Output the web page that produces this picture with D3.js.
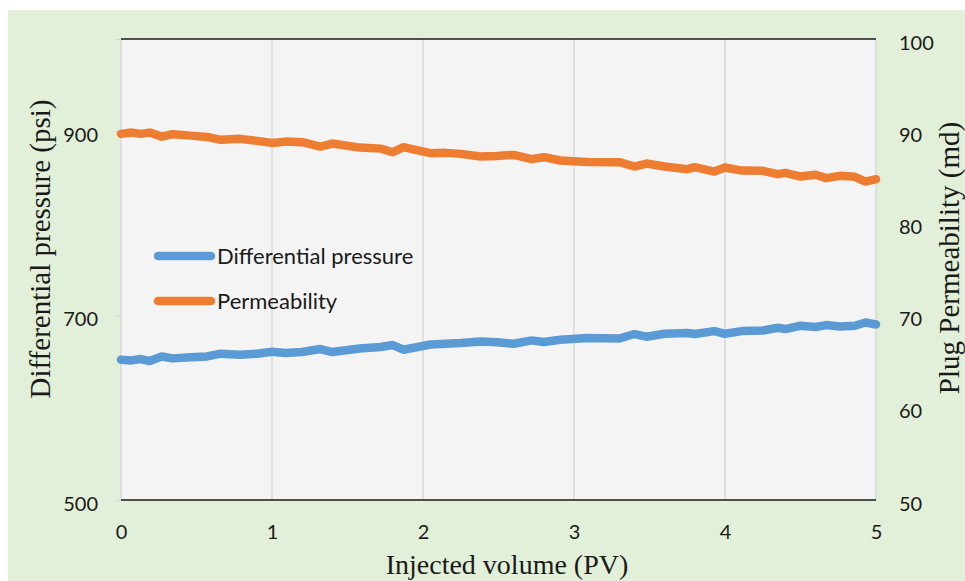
<!DOCTYPE html>
<html>
<head>
<meta charset="utf-8">
<script src="https://cdn.jsdelivr.net/npm/d3@7"></script>
<style>
  html, body { margin: 0; padding: 0; background: #ffffff; }
  svg { display: block; }
</style>
</head>
<body>
<svg id="chart" width="965" height="581"></svg>
<script>

//============================================================
// Data
//------------------------------------------------------------

var injectedPV = [0, 0.07, 0.13, 0.19, 0.27, 0.34, 0.46, 0.57, 0.66, 0.79,
                  0.90, 1.00, 1.09, 1.20, 1.32, 1.40, 1.58, 1.72, 1.80, 1.87,
                  2.05, 2.15, 2.25, 2.38, 2.49, 2.60, 2.72, 2.80, 2.91, 3.09,
                  3.30, 3.40, 3.48, 3.60, 3.75, 3.80, 3.93, 4.00, 4.11, 4.25,
                  4.35, 4.40, 4.50, 4.60, 4.67, 4.76, 4.86, 4.93, 5.00];

var diffPressure = [652.2, 651.4, 652.9, 650.7, 655.7, 653.6, 654.7, 655.7, 658.7, 657.6,
                    658.7, 660.8, 659.4, 660.5, 663.7, 660.5, 664.4, 665.9, 668.1, 663.0,
                    668.7, 669.5, 670.2, 672.0, 671.1, 669.5, 673.1, 671.3, 673.8, 675.6,
                    675.2, 680.0, 677.1, 680.3, 681.1, 680.0, 683.2, 680.3, 683.2, 683.9,
                    686.8, 685.4, 689.0, 687.6, 689.7, 688.2, 689.0, 692.5, 690.4];

var permeability = [89.71, 89.85, 89.71, 89.85, 89.41, 89.68, 89.52, 89.38, 89.06, 89.17,
                    88.95, 88.73, 88.87, 88.81, 88.33, 88.66, 88.22, 88.11, 87.72, 88.27,
                    87.62, 87.65, 87.54, 87.25, 87.32, 87.43, 86.97, 87.18, 86.82, 86.66,
                    86.64, 86.17, 86.49, 86.17, 85.88, 86.10, 85.62, 86.06, 85.73, 85.70,
                    85.34, 85.48, 85.08, 85.27, 84.91, 85.16, 85.05, 84.54, 84.80];

var xTicks = [0, 1, 2, 3, 4, 5];
var leftTicks = [500, 700, 900];
var rightTicks = [50, 60, 70, 80, 90, 100];

var seriesNames = ['Differential pressure', 'Permeability'];
var seriesColors = ['#5b9bd5', '#ed7d31'];

//============================================================
// Layout
//------------------------------------------------------------

var width = 965,
    height = 581,
    margin = {top: 39, right: 89, bottom: 81, left: 121};

var plotW = width - margin.left - margin.right,
    plotH = height - margin.top - margin.bottom;

var tickFont = 'Lato, "Open Sans", sans-serif',
    titleFont = '"Liberation Serif", "Times New Roman", serif';

var svg = d3.select('#chart');

// green page background
svg.append('rect')
  .attr('x', 8).attr('y', 10)
  .attr('width', width - 8).attr('height', height - 10)
  .attr('fill', '#e2efd9');

var g = svg.append('g')
  .attr('transform', 'translate(' + margin.left + ',' + margin.top + ')');

//------------------------------------------------------------
// Scales

var x = d3.scaleLinear().domain([0, 5]).range([0, plotW]);
var yLeft = d3.scaleLinear().domain([500, 1000]).range([plotH, 0]);
var yRight = d3.scaleLinear().domain([50, 100]).range([plotH, 0]);

//------------------------------------------------------------
// Plot area + grid

g.append('rect')
  .attr('width', plotW).attr('height', plotH)
  .attr('fill', '#f4f4f4');

g.selectAll('line.grid')
  .data(xTicks)
  .enter().append('line')
  .attr('class', 'grid')
  .attr('x1', function(d) { return x(d); })
  .attr('x2', function(d) { return x(d); })
  .attr('y1', 0).attr('y2', plotH)
  .attr('stroke', '#d9d9d9')
  .attr('stroke-width', 1.5);

// top border and bottom axis line
g.append('line')
  .attr('x1', 0).attr('x2', plotW).attr('y1', 0).attr('y2', 0)
  .attr('stroke', '#1a1a1a').attr('stroke-width', 1.5);
g.append('line')
  .attr('x1', 0).attr('x2', plotW).attr('y1', plotH).attr('y2', plotH)
  .attr('stroke', '#1a1a1a').attr('stroke-width', 1.5);

//------------------------------------------------------------
// Axes

var xAxis = g.append('g')
  .attr('transform', 'translate(0,' + plotH + ')')
  .call(d3.axisBottom(x).tickValues(xTicks).tickSize(0).tickPadding(25).tickFormat(d3.format('d')));

var leftAxis = g.append('g')
  .call(d3.axisLeft(yLeft).tickValues(leftTicks.concat([1000])).tickSize(6).tickPadding(17).tickFormat(function(d) { return d === 1000 ? '' : d; }));

var rightAxis = g.append('g')
  .attr('transform', 'translate(' + plotW + ',0)')
  .call(d3.axisRight(yRight).tickValues(rightTicks).tickSize(0).tickPadding(23));

[xAxis, leftAxis, rightAxis].forEach(function(a) {
  a.select('.domain').remove();
  a.selectAll('.tick line').attr('stroke', '#d9d9d9');
  a.selectAll('.tick text')
    .attr('fill', '#1a1a1a')
    .style('font-family', tickFont)
    .style('font-size', '20px');
});
leftAxis.selectAll('.tick text').attr('dy', '0.5em');
rightAxis.selectAll('.tick text').attr('dy', '0.5em');

//------------------------------------------------------------
// Lines

var rows = injectedPV.map(function(v, i) {
  return {pv: v, dp: diffPressure[i], k: permeability[i]};
});

var lineDP = d3.line()
  .x(function(d) { return x(d.pv); })
  .y(function(d) { return yLeft(d.dp); });

var lineK = d3.line()
  .x(function(d) { return x(d.pv); })
  .y(function(d) { return yRight(d.k); });

g.append('path')
  .datum(rows)
  .attr('d', lineDP)
  .attr('fill', 'none')
  .attr('stroke', seriesColors[0])
  .attr('stroke-width', 8.5)
  .attr('stroke-linejoin', 'round')
  .attr('stroke-linecap', 'round');

g.append('path')
  .datum(rows)
  .attr('d', lineK)
  .attr('fill', 'none')
  .attr('stroke', seriesColors[1])
  .attr('stroke-width', 8.5)
  .attr('stroke-linejoin', 'round')
  .attr('stroke-linecap', 'round');

//------------------------------------------------------------
// Legend

var legend = svg.selectAll('g.legend')
  .data(seriesNames)
  .enter().append('g')
  .attr('class', 'legend')
  .attr('transform', function(d, i) { return 'translate(158,' + (256 + i * 45) + ')'; });

legend.append('line')
  .attr('x1', 0).attr('x2', 53)
  .attr('stroke', function(d, i) { return seriesColors[i]; })
  .attr('stroke-width', 8.5)
  .attr('stroke-linecap', 'round');

legend.append('text')
  .attr('x', 59)
  .attr('dy', '0.35em')
  .attr('fill', '#1a1a1a')
  .style('font-family', tickFont)
  .style('font-size', '22px')
  .text(function(d) { return d; });

//------------------------------------------------------------
// Axis titles

svg.append('text')
  .attr('transform', 'translate(50,249) rotate(-90)')
  .attr('text-anchor', 'middle')
  .attr('fill', '#1a1a1a')
  .style('font-family', titleFont)
  .style('font-size', '29px')
  .text('Differential pressure (psi)');

svg.append('text')
  .attr('transform', 'translate(959,258) rotate(-90)')
  .attr('text-anchor', 'middle')
  .attr('fill', '#1a1a1a')
  .style('font-family', titleFont)
  .style('font-size', '29px')
  .text('Plug Permeability (md)');

svg.append('text')
  .attr('x', 507)
  .attr('y', 574)
  .attr('text-anchor', 'middle')
  .attr('fill', '#1a1a1a')
  .style('font-family', titleFont)
  .style('font-size', '28px')
  .text('Injected volume (PV)');

</script>
</body>
</html>
